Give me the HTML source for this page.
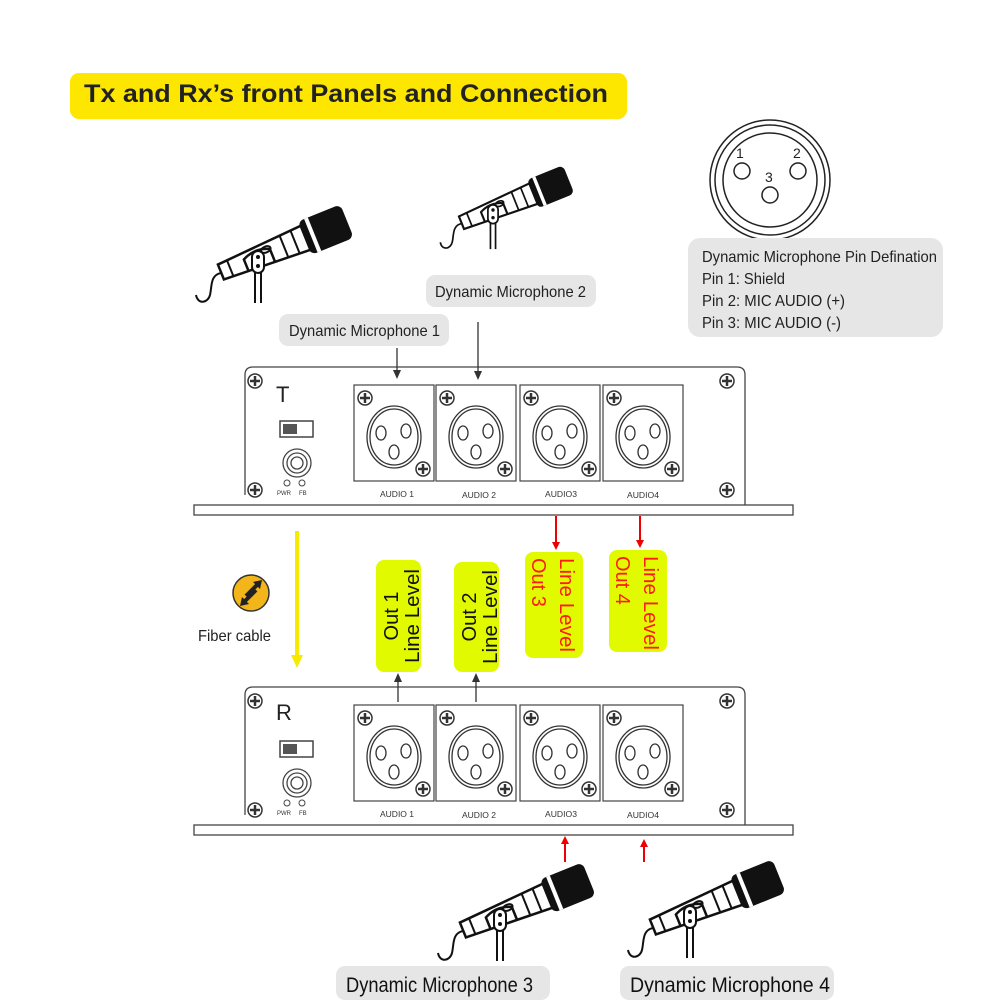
<!DOCTYPE html>
<html><head><meta charset="utf-8"><style>
html,body{margin:0;padding:0;background:#fff}
svg{display:block}
</style></head><body>
<svg width="1000" height="1000" viewBox="0 0 1000 1000" xmlns="http://www.w3.org/2000/svg" font-family="'Liberation Sans', Arial, sans-serif">
<defs>
<g id="mic">
  <line x1="-3" y1="10" x2="-3" y2="46" stroke="#111" stroke-width="2"/>
  <line x1="3" y1="10" x2="3" y2="46" stroke="#111" stroke-width="2"/>
  <g transform="rotate(-22)">
    <path d="M-40,-8 L52,-13 L52,13 L-40,8 Z" fill="#fff" stroke="#111" stroke-width="2.5"/>
    <line x1="-30" y1="-8" x2="-30" y2="8" stroke="#111" stroke-width="2"/>
    <ellipse cx="10" cy="-4" rx="5" ry="3" fill="none" stroke="#111" stroke-width="2"/>
    <line x1="28" y1="-12" x2="28" y2="12" stroke="#111" stroke-width="2"/>
    <line x1="40" y1="-13" x2="40" y2="13" stroke="#111" stroke-width="2"/>
    <rect x="50" y="-18" width="46" height="36" rx="6" fill="#111"/>
    <rect x="57" y="-18" width="4" height="36" fill="#fff"/>
    <path d="M-14,10 L-14,-3 Q0,-10 14,-3 L14,10" fill="none" stroke="#111" stroke-width="2.5"/>
  </g>
  <rect x="-6" y="-6" width="12" height="22" rx="6" fill="#fff" stroke="#111" stroke-width="2"/>
  <circle cx="0" cy="0" r="2" fill="#111"/>
  <circle cx="0" cy="9" r="2" fill="#111"/>
  <path d="M-37,16 C-48,18 -46,30 -48,38 C-50,46 -60,48 -62,38" fill="none" stroke="#111" stroke-width="2"/>
</g>
<g id="screw">
  <circle r="7" fill="#fff" stroke="#333" stroke-width="1.5"/>
  <line x1="-5" y1="0" x2="5" y2="0" stroke="#333" stroke-width="2.5"/>
  <line x1="0" y1="-5" x2="0" y2="5" stroke="#333" stroke-width="2.5"/>
</g>
<g id="xlr">
  <rect x="0" y="0" width="80" height="96" fill="#fff" stroke="#444" stroke-width="1.2"/>
  <use href="#screw" x="11" y="13"/>
  <use href="#screw" x="69" y="84"/>
  <ellipse cx="40" cy="52" rx="27" ry="31" fill="none" stroke="#333" stroke-width="1.3"/>
  <ellipse cx="40" cy="52" rx="24" ry="28" fill="none" stroke="#333" stroke-width="1.3"/>
  <ellipse cx="27" cy="48" rx="5" ry="7" fill="none" stroke="#333" stroke-width="1.3"/>
  <ellipse cx="52" cy="46" rx="5" ry="7" fill="none" stroke="#333" stroke-width="1.3"/>
  <ellipse cx="40" cy="67" rx="5" ry="7" fill="none" stroke="#333" stroke-width="1.3"/>
</g>
<g id="panel">
  <path d="M245,120 L245,0 Q245,-8 253,-8 L737,-8 Q745,-8 745,0 L745,130" fill="#fff" stroke="#444" stroke-width="1.3"/>
  <rect x="194" y="130" width="599" height="10" fill="#fff" stroke="#444" stroke-width="1.3"/>
  <use href="#screw" x="255" y="6"/>
  <use href="#screw" x="255" y="115"/>
  <use href="#screw" x="727" y="6"/>
  <use href="#screw" x="727" y="115"/>
  <rect x="280" y="46" width="33" height="16" fill="#fff" stroke="#444" stroke-width="1.5"/>
  <rect x="283" y="49" width="14" height="10" fill="#555"/>
  <circle cx="297" cy="88" r="14" fill="none" stroke="#444" stroke-width="1.3"/>
  <circle cx="297" cy="88" r="10" fill="none" stroke="#444" stroke-width="1.3"/>
  <circle cx="297" cy="88" r="6" fill="none" stroke="#444" stroke-width="1.3"/>
  <circle cx="287" cy="108" r="3" fill="none" stroke="#444"/>
  <circle cx="302" cy="108" r="3" fill="none" stroke="#444"/>
  <text x="277" y="120" font-size="6" fill="#333">PWR</text>
  <text x="299" y="120" font-size="6" fill="#333">FB</text>
  <use href="#xlr" x="354" y="10"/>
  <use href="#xlr" x="436" y="10"/>
  <use href="#xlr" x="520" y="10"/>
  <use href="#xlr" x="603" y="10"/>
  <text x="380" y="122" font-size="8" fill="#333" textLength="34" lengthAdjust="spacingAndGlyphs">AUDIO 1</text>
  <text x="462" y="123" font-size="8" fill="#333" textLength="34" lengthAdjust="spacingAndGlyphs">AUDIO 2</text>
  <text x="545" y="122" font-size="8" fill="#333" textLength="32" lengthAdjust="spacingAndGlyphs">AUDIO3</text>
  <text x="627" y="123" font-size="8" fill="#333" textLength="32" lengthAdjust="spacingAndGlyphs">AUDIO4</text>
</g>
</defs>

<rect x="70" y="73" width="557" height="46" rx="9" fill="#fde700"/>
<text x="84" y="102" font-size="25" font-weight="bold" fill="#222" textLength="524" lengthAdjust="spacingAndGlyphs">Tx and Rx’s front Panels and Connection</text>

<circle cx="770" cy="180" r="60" fill="none" stroke="#222" stroke-width="1.5"/>
<circle cx="770" cy="180" r="55" fill="none" stroke="#222" stroke-width="1.5"/>
<circle cx="770" cy="180" r="47" fill="none" stroke="#222" stroke-width="1.5"/>
<circle cx="742" cy="171" r="8" fill="none" stroke="#222" stroke-width="1.5"/>
<circle cx="798" cy="171" r="8" fill="none" stroke="#222" stroke-width="1.5"/>
<circle cx="770" cy="195" r="8" fill="none" stroke="#222" stroke-width="1.5"/>
<text x="736" y="158" font-size="14" fill="#222">1</text>
<text x="793" y="158" font-size="14" fill="#222">2</text>
<text x="765" y="182" font-size="14" fill="#222">3</text>
<rect x="688" y="238" width="255" height="99" rx="12" fill="#e6e6e6"/>
<g font-size="16" fill="#222">
<text x="702" y="262" textLength="235" lengthAdjust="spacingAndGlyphs">Dynamic Microphone Pin Defination</text>
<text x="702" y="284" textLength="83" lengthAdjust="spacingAndGlyphs">Pin 1: Shield</text>
<text x="702" y="306" textLength="143" lengthAdjust="spacingAndGlyphs">Pin 2: MIC AUDIO (+)</text>
<text x="702" y="328" textLength="139" lengthAdjust="spacingAndGlyphs">Pin 3: MIC AUDIO (-)</text>
</g>

<use href="#mic" x="258" y="257"/>
<g transform="translate(493 210) scale(0.85) translate(-493 -210)"><use href="#mic" x="493" y="210"/></g>

<rect x="426" y="275" width="170" height="32" rx="9" fill="#e6e6e6"/>
<text x="435" y="297" font-size="16" fill="#222" textLength="151" lengthAdjust="spacingAndGlyphs">Dynamic Microphone 2</text>
<rect x="279" y="314" width="170" height="32" rx="9" fill="#e6e6e6"/>
<text x="289" y="336" font-size="16" fill="#222" textLength="151" lengthAdjust="spacingAndGlyphs">Dynamic Microphone 1</text>

<g transform="translate(0 375)"><use href="#panel"/></g>
<text x="276" y="402" font-size="22" fill="#222">T</text>

<line x1="397" y1="348" x2="397" y2="372" stroke="#333" stroke-width="1.3"/>
<path d="M393,370 L401,370 L397,379 Z" fill="#333"/>
<line x1="478" y1="322" x2="478" y2="373" stroke="#333" stroke-width="1.3"/>
<path d="M474,371 L482,371 L478,380 Z" fill="#333"/>

<line x1="556" y1="516" x2="556" y2="543" stroke="#e00" stroke-width="2"/>
<path d="M552,542 L560,542 L556,550 Z" fill="#e00"/>
<line x1="640" y1="516" x2="640" y2="541" stroke="#e00" stroke-width="2"/>
<path d="M636,540 L644,540 L640,548 Z" fill="#e00"/>

<line x1="297" y1="531" x2="297" y2="657" stroke="#f5ea00" stroke-width="4"/>
<path d="M291,655 L303,655 L297,668 Z" fill="#f5ea00"/>
<circle cx="251" cy="593" r="18" fill="#f2b51a" stroke="#333" stroke-width="1.5"/>
<path d="M246,596 L258,584" stroke="#222" stroke-width="4"/>
<path d="M253,582 L262,580 L260,589 Z" fill="#222"/>
<path d="M256,590 L244,602" stroke="#222" stroke-width="4"/>
<path d="M249,604 L240,606 L242,597 Z" fill="#222"/>
<text x="198" y="641" font-size="16" fill="#222" textLength="73" lengthAdjust="spacingAndGlyphs">Fiber cable</text>

<rect x="376" y="560" width="45" height="112" rx="8" fill="#e2fa00"/>
<text transform="translate(398 616) rotate(-90)" font-size="20" fill="#111" text-anchor="middle"><tspan x="0" y="0">Out 1</tspan><tspan x="0" y="21" textLength="94" lengthAdjust="spacingAndGlyphs">Line Level</tspan></text>
<rect x="454" y="562" width="45" height="110" rx="8" fill="#e2fa00"/>
<text transform="translate(476 617) rotate(-90)" font-size="20" fill="#111" text-anchor="middle"><tspan x="0" y="0">Out 2</tspan><tspan x="0" y="21" textLength="94" lengthAdjust="spacingAndGlyphs">Line Level</tspan></text>
<rect x="525" y="552" width="58" height="106" rx="8" fill="#e2fa00"/>
<text transform="translate(560 558) rotate(90)" font-size="20" fill="#ff1a1a"><tspan x="0" y="0" textLength="94" lengthAdjust="spacingAndGlyphs">Line Level</tspan><tspan x="0" y="28">Out 3</tspan></text>
<rect x="609" y="550" width="58" height="102" rx="8" fill="#e2fa00"/>
<text transform="translate(644 556) rotate(90)" font-size="20" fill="#ff1a1a"><tspan x="0" y="0" textLength="94" lengthAdjust="spacingAndGlyphs">Line Level</tspan><tspan x="0" y="28">Out 4</tspan></text>

<g transform="translate(0 695)"><use href="#panel"/></g>
<text x="276" y="720" font-size="22" fill="#222">R</text>

<line x1="398" y1="702" x2="398" y2="680" stroke="#333" stroke-width="1.3"/>
<path d="M394,682 L402,682 L398,673 Z" fill="#333"/>
<line x1="476" y1="702" x2="476" y2="680" stroke="#333" stroke-width="1.3"/>
<path d="M472,682 L480,682 L476,673 Z" fill="#333"/>

<line x1="565" y1="862" x2="565" y2="842" stroke="#e00" stroke-width="2"/>
<path d="M561,844 L569,844 L565,836 Z" fill="#e00"/>
<line x1="644" y1="862" x2="644" y2="845" stroke="#e00" stroke-width="2"/>
<path d="M640,847 L648,847 L644,839 Z" fill="#e00"/>

<use href="#mic" x="500" y="915"/>
<use href="#mic" x="690" y="912"/>

<rect x="336" y="966" width="214" height="34" rx="9" fill="#e6e6e6"/>
<text x="346" y="992" font-size="21" fill="#111" textLength="187" lengthAdjust="spacingAndGlyphs">Dynamic Microphone 3</text>
<rect x="620" y="966" width="214" height="34" rx="9" fill="#e6e6e6"/>
<text x="630" y="992" font-size="21" fill="#111" textLength="200" lengthAdjust="spacingAndGlyphs">Dynamic Microphone 4</text>
</svg>
</body></html>
